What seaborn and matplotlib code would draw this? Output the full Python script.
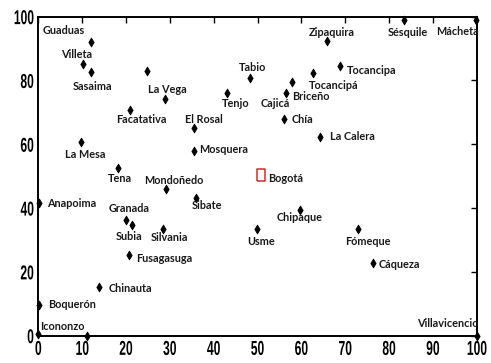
import matplotlib
matplotlib.use("Agg")
import matplotlib.pyplot as plt
import seaborn as sns
import pandas as pd
from matplotlib import font_manager, patheffects
from matplotlib.transforms import Affine2D

# Municipalities around Bogotá on a normalised 0-100 grid
names = ["Guaduas", "Villeta", "Sasaima", "", "La Vega", "Facatativa", "El Rosal",
         "Tenjo", "Tabio", "La Mesa", "Mosquera", "Tena", "Mondoñedo", "Sibate",
         "Anapoima", "Granada", "Subia", "Silvania", "Fusagasuga", "Chinauta",
         "Boquerón", "Icononzo", "", "Zipaquira", "Sésquile", "Mácheta",
         "Tocancipa", "Tocancipá", "Briceño", "Cajicá", "Chía", "La Calera",
         "Chipaque", "Usme", "Fómeque", "Cáqueza", "Villavicencio"]
x_vals = [12.0, 10.3, 12.1, 24.9, 28.9, 20.9, 35.6,
          43.0, 48.3, 9.7, 35.4, 18.1, 29.1, 36.0,
          0.2, 20.0, 21.3, 28.5, 20.7, 13.8,
          0.2, 0.0, 11.0, 65.8, 83.5, 99.8,
          68.7, 62.7, 57.9, 56.5, 56.1, 64.3,
          59.7, 49.8, 72.9, 76.4, 100.0]
y_vals = [92.1, 85.3, 82.6, 83.0, 74.3, 70.8, 65.2,
          76.2, 80.7, 60.6, 58.0, 52.7, 46.1, 43.1,
          41.5, 36.3, 34.8, 33.5, 25.2, 15.2,
          9.7, 0.4, 0.0, 92.5, 99.0, 99.0,
          84.5, 82.3, 79.5, 76.2, 68.0, 62.2,
          39.4, 33.4, 33.4, 22.9, 0.0]

capital_name = "Bogotá"
capital_x = [50.7]
capital_y = [50.4]

x_ticks = [0, 10, 20, 30, 40, 50, 60, 70, 80, 90, 100]
y_ticks = [0, 20, 40, 60, 80, 100]

# label placement: offset in pixels (right, down) from the point, and alignment
label_layout = {
    "Guaduas": (-48, -11, "left"), "Villeta": (-22, -9, "left"),
    "Sasaima": (-19, 14, "left"), "La Vega": (-17, -9, "left"),
    "Facatativa": (-14, 10, "left"), "El Rosal": (-9, -8, "left"),
    "Tenjo": (-5, 11, "left"), "Tabio": (-11, -11, "left"),
    "La Mesa": (-16, 12, "left"), "Mosquera": (6, -1, "left"),
    "Tena": (-10, 11, "left"), "Mondoñedo": (-22, -8, "left"),
    "Sibate": (-4, 7, "left"), "Anapoima": (8, 0, "left"),
    "Granada": (-17, -11, "left"), "Subia": (-16, 12, "left"),
    "Silvania": (-13, 9, "left"), "Fusagasuga": (7, 3, "left"),
    "Chinauta": (10, 1, "left"), "Boquerón": (9, 0, "left"),
    "Icononzo": (2, -8, "left"), "Zipaquira": (-18, -8, "left"),
    "Sésquile": (-17, 13, "left"), "Mácheta": (3, 12, "right"),
    "Tocancipa": (7, 4, "left"), "Tocancipá": (-4, 12, "left"),
    "Briceño": (0, 14, "left"), "Cajicá": (-25, 11, "left"),
    "Chía": (7, 1, "left"), "La Calera": (10, -1, "left"),
    "Bogotá": (8, 4, "left"), "Chipaque": (-23, 8, "left"),
    "Usme": (-9, 12, "left"), "Fómeque": (-13, 12, "left"),
    "Cáqueza": (5, 2, "left"), "Villavicencio": (2, -12, "right"),
}


class Condense(patheffects.AbstractPathEffect):
    """Squeeze a text path horizontally about an anchor side."""

    def __init__(self, factor, anchor="center"):
        super().__init__()
        self.factor = factor
        self.anchor = anchor

    def draw_path(self, renderer, gc, tpath, affine, rgbFace=None):
        ext = tpath.transformed(affine).get_extents()
        if self.anchor == "right":
            cx = ext.x1
        else:
            cx = 0.5 * (ext.x0 + ext.x1)
        squeeze = Affine2D().translate(-cx, 0).scale(self.factor, 1).translate(cx, 0)
        renderer.draw_path(gc, tpath, affine + squeeze, rgbFace)


df = pd.DataFrame({"name": names, "x": x_vals, "y": y_vals})

sns.set_style("white")
available = {f.name for f in font_manager.fontManager.ttflist}
label_font = "Lato" if "Lato" in available else "DejaVu Sans"
tick_font = "Liberation Sans" if "Liberation Sans" in available else "DejaVu Sans"
plt.rcParams["font.family"] = [label_font, "DejaVu Sans"]

fig = plt.figure(figsize=(4.91, 3.63), dpi=100)
ax = fig.add_axes([0.078, 0.0752, 0.893, 0.879])

sns.scatterplot(data=df, x="x", y="y", ax=ax, marker="d", s=20,
                color="black", edgecolor="black", linewidth=0.6,
                clip_on=False, zorder=3, legend=False)

rect_marker = [(-0.62, -1), (0.62, -1), (0.62, 1), (-0.62, 1), (-0.62, -1)]
ax.scatter(capital_x, capital_y, marker=rect_marker, s=75, facecolor="white",
           edgecolor="#d42a2a", linewidth=1.1, zorder=4)

all_names = names + [capital_name]
all_x = x_vals + capital_x
all_y = y_vals + capital_y
for n, xv, yv in zip(all_names, all_x, all_y):
    if not n:
        continue
    dx, dy, ha = label_layout[n]
    ax.annotate(n, (xv, yv), xytext=(dx, -dy), textcoords="offset pixels",
                ha=ha, va="center", fontsize=7.8, color="#1a1a1a",
                fontweight="bold", annotation_clip=False)

ax.set_xlim(0, 100)
ax.set_ylim(0, 100)
ax.set_xticks(x_ticks)
ax.set_yticks(y_ticks)
ax.set_xlabel("")
ax.set_ylabel("")
ax.tick_params(direction="in", length=4, width=1, top=True, right=True,
               labelsize=14.5, colors="black")
ax.tick_params(axis="x", pad=3)
ax.tick_params(axis="y", pad=3)
for lab in ax.get_xticklabels():
    lab.set_family(tick_font)
    lab.set_fontweight("bold")
    lab.set_path_effects([Condense(0.6, "center")])
for lab in ax.get_yticklabels():
    lab.set_family(tick_font)
    lab.set_fontweight("bold")
    lab.set_path_effects([Condense(0.6, "right")])
for sp in ax.spines.values():
    sp.set_visible(True)
    sp.set_color("black")
    sp.set_linewidth(1.4)

fig.savefig("out.png", dpi=100, facecolor="white")
